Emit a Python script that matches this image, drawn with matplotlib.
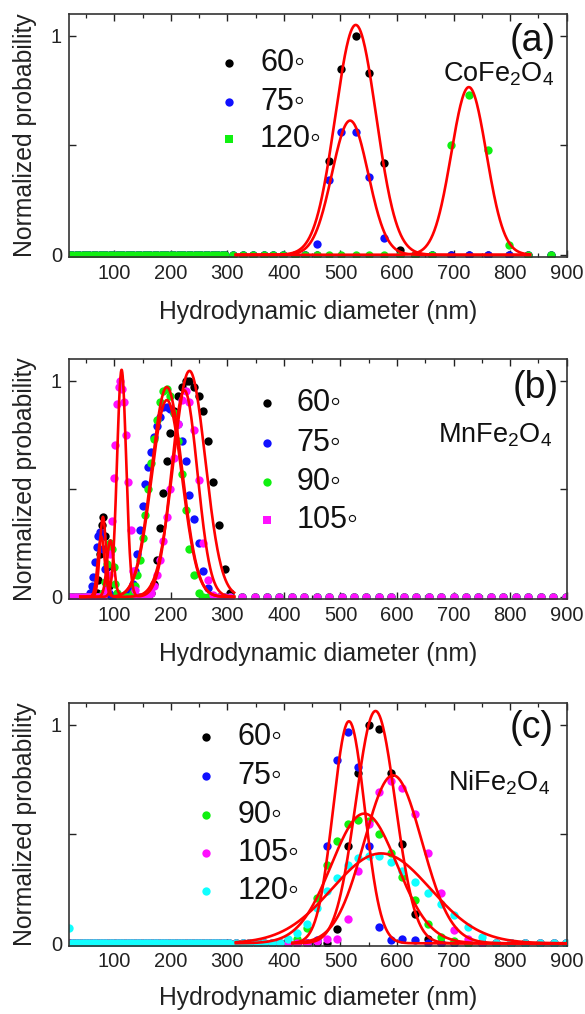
import numpy as np
import matplotlib
matplotlib.use('Agg')
import matplotlib.pyplot as plt
from matplotlib.ticker import MultipleLocator

plt.rcParams['font.family'] = ['Liberation Sans', 'DejaVu Sans']
plt.rcParams['mathtext.fontset'] = 'custom'
plt.rcParams['mathtext.rm'] = 'Liberation Sans'
plt.rcParams['mathtext.it'] = 'Liberation Sans:italic'
plt.rcParams['mathtext.bf'] = 'Liberation Sans:bold'

# ---------------- data: panel (a) CoFe2O4 ----------------
a_grid = [20, 26, 32, 38, 44, 50, 56, 62, 68, 74, 80, 86, 92, 98, 104, 110, 116, 122,
          128, 134, 140, 146, 152, 158, 164, 170, 176, 182, 188, 194, 200, 206, 212, 218,
          224, 230, 236, 242, 248, 254, 260, 266, 272, 278, 284, 290, 296, 310, 328, 346,
          364, 381, 399, 419, 437, 458, 480, 501, 527, 551, 577, 605, 632, 661, 695, 727,
          760, 798, 832, 873]
a_labels = ['60\u25e6', '75\u25e6', '120\u25e6']
a_colors = ['#000000', '#1010ff', '#10f010']
a_x = [[480, 501, 527, 551, 577, 605],
       [458, 480, 501, 527, 551, 577],
       [695, 727, 760, 798]]
a_y = [[0.43, 0.85, 1.0, 0.83, 0.42, 0.02],
       [0.05, 0.34, 0.56, 0.56, 0.355, 0.075],
       [0.50, 0.73, 0.48, 0.045]]
a_fit_c = [527, 517, 727]
a_fit_a = [1.05, 0.613, 0.766]
a_fit_s = [36, 32, 31]
a_fit_lo = [315, 315, 315]
a_fit_hi = [835, 835, 835]

# ---------------- data: panel (b) MnFe2O4 ----------------
b_grid = [20, 24, 28, 32, 36, 40, 44, 48, 51, 54, 57, 60, 63, 66, 69, 72, 75, 78, 81, 84,
          87, 90, 93, 96, 99, 102, 105, 108, 111, 114, 117, 121, 125, 129, 133, 137, 141,
          145, 150, 155, 160, 165, 170, 175, 181, 187, 193, 199, 205, 212, 219, 226, 233,
          241, 249, 257, 266, 275, 285, 295, 305, 326, 348, 370, 392, 414, 436, 458, 480,
          502, 524, 546, 568, 590, 612, 634, 656, 678, 700, 722, 744, 766, 788, 810, 832,
          854, 876, 898]
b_labels = ['60\u25e6', '75\u25e6', '90\u25e6', '105\u25e6']
b_colors = ['#000000', '#1010ff', '#10f010', '#ff10ff']
b_x = [[69, 72, 75, 78, 81, 84, 87, 90, 93,
        165, 170, 175, 181, 187, 193, 199, 205, 212, 219, 226, 233, 241, 249, 257, 266,
        275, 285, 295, 305],
       [57, 60, 63, 66, 69, 72, 75, 78, 81, 84, 87, 90,
        125, 129, 133, 137, 141, 145, 150, 155, 160, 165, 170, 175, 181, 187, 193, 199,
        205, 212, 219, 226, 233, 241, 249, 257, 266],
       [81, 84, 87, 90, 93, 96, 99, 102, 105,
        133, 137, 141, 145, 150, 155, 160, 165, 170, 175, 181, 187, 193, 199, 205, 212,
        219, 226, 233, 241, 249],
       [87, 90, 93, 96, 99, 102, 105, 108, 111, 114, 117, 121, 125, 129, 133, 137,
        165, 170, 175, 181, 187, 193, 199, 205, 212, 219, 226, 233, 241, 249, 257, 266, 275]]
b_y = [[0.02, 0.08, 0.20, 0.33, 0.37, 0.28, 0.14, 0.05, 0.01,
        0.02, 0.06, 0.17, 0.32, 0.48, 0.63, 0.76, 0.86, 0.93, 0.97, 1.0, 1.0, 0.97, 0.93,
        0.86, 0.72, 0.53, 0.33, 0.13, 0.02],
       [0.02, 0.05, 0.09, 0.16, 0.23, 0.28, 0.30, 0.28, 0.22, 0.13, 0.06, 0.02,
        0.01, 0.03, 0.06, 0.12, 0.20, 0.31, 0.42, 0.52, 0.60, 0.67, 0.74, 0.79, 0.83, 0.88,
        0.88, 0.87, 0.85, 0.80, 0.72, 0.63, 0.47, 0.36, 0.25, 0.12, 0.04],
       [0.02, 0.07, 0.15, 0.22, 0.25, 0.22, 0.14, 0.06, 0.02,
        0.02, 0.05, 0.10, 0.17, 0.27, 0.38, 0.50, 0.62, 0.73, 0.82, 0.90, 0.95, 0.96, 0.93,
        0.85, 0.72, 0.57, 0.40, 0.22, 0.10, 0.02],
       [0.03, 0.10, 0.20, 0.35, 0.55, 0.70, 0.89, 0.97, 1.0, 0.96, 0.90, 0.75, 0.53, 0.31,
        0.12, 0.03,
        0.02, 0.05, 0.10, 0.17, 0.26, 0.37, 0.50, 0.64, 0.80, 0.91, 0.95, 0.90, 0.77, 0.54,
        0.25, 0.08, 0.01]]
b_fit1_c = [80, 77, 93, 113]
b_fit1_a = [0.37, 0.28, 0.26, 1.05]
b_fit1_s = [5.5, 6, 6, 8]
b_fit2_c = [233, 193, 193, 224]
b_fit2_a = [1.045, 0.91, 0.97, 0.955]
b_fit2_s = [28, 27, 27, 23]
b_fit_lo = [40, 40, 40, 40]
b_fit_hi = [312, 312, 312, 312]

# ---------------- data: panel (c) NiFe2O4 ----------------
c_grid = [20, 26, 32, 38, 44, 50, 56, 62, 68, 74, 80, 86, 92, 98, 104, 110, 116, 122,
          128, 134, 140, 146, 152, 158, 164, 170, 176, 182, 188, 194, 200, 206, 212, 218,
          224, 230, 236, 242, 248, 254, 260, 266, 272, 278, 284, 290, 296, 303, 315, 327,
          339, 352, 365, 379, 393, 408, 424, 441, 459, 477, 494, 513, 531, 550, 568, 589,
          609, 631, 654, 678, 701, 725, 750, 775, 801, 827, 853, 877, 899]
c_labels = ['60\u25e6', '75\u25e6', '90\u25e6', '105\u25e6', '120\u25e6']
c_colors = ['#000000', '#1010ff', '#10f010', '#ff10ff', '#10ffff']
c_x = [[494, 513, 531, 550, 568, 589, 609, 631, 654],
       [459, 477, 494, 513, 531, 550, 568, 589, 609, 631],
       [424, 441, 459, 477, 494, 513, 531, 550, 568, 589, 609, 631, 654, 678, 701],
       [459, 477, 494, 513, 531, 550, 568, 589, 609, 631, 654, 678, 701, 725],
       [20, 408, 424, 441, 459, 477, 494, 513, 531, 550, 568, 589, 609, 631, 654, 678,
        701, 725, 750]]
c_y = [[0.064, 0.444, 0.78, 1.0, 0.98, 0.78, 0.456, 0.134, 0.02],
       [0.015, 0.447, 0.837, 0.966, 0.806, 0.447, 0.076, 0.015, 0.018, 0.015],
       [0.02, 0.068, 0.205, 0.357, 0.469, 0.545, 0.566, 0.56, 0.499, 0.411, 0.304, 0.198,
        0.09, 0.03, 0.01],
       [0.01, 0.02, 0.02, 0.11, 0.33, 0.545, 0.69, 0.74, 0.71, 0.59, 0.415, 0.228, 0.06,
        0.02],
       [0.068, 0.02, 0.045, 0.09, 0.16, 0.24, 0.30, 0.36, 0.39, 0.40, 0.40, 0.37, 0.33,
        0.28, 0.23, 0.18, 0.13, 0.075, 0.03]]
c_fit_c = [562, 515, 542, 593, 572]
c_fit_a = [1.062, 1.015, 0.593, 0.768, 0.411]
c_fit_s = [35, 28, 58, 51, 87]
c_fit_lo = [415, 415, 315, 415, 315]
c_fit_hi = [900, 900, 900, 900, 900]

x_ticks = [100, 200, 300, 400, 500, 600, 700, 800, 900]
y_ticks = [0, 0.5, 1]
y_ticklabels = ['0', '', '1']

# ---------------- figure ----------------
W, H = 585, 1014
fig = plt.figure(figsize=(W / 100, H / 100), dpi=100)
AX_L, AX_R = 69, 566.7
MS = 36
FIT_LW = 1.9


def make_axes(top, bottom):
    return fig.add_axes([AX_L / W, 1 - bottom / H, (AX_R - AX_L) / W, (bottom - top) / H])


def gauss_sum(x, comps):
    out = np.zeros_like(x)
    for c, a, s in comps:
        out += a * np.exp(-(x - c) ** 2 / (2 * s ** 2))
    return out


def style_axes(ax, xlab_y):
    ax.set_xlim(20, 900)
    ax.set_ylim(-0.01, 1.1)
    ax.set_xticks(x_ticks)
    ax.xaxis.set_minor_locator(MultipleLocator(50))
    ax.set_yticks(y_ticks)
    ax.set_yticklabels(y_ticklabels)
    ax.tick_params(which='both', direction='in', top=True, right=True,
                   labelsize=14.5, colors='#222222')
    ax.tick_params(which='major', length=5, width=1.0, pad=5)
    ax.tick_params(which='minor', length=3, width=0.9)
    for sp in ax.spines.values():
        sp.set_linewidth(1.2)
        sp.set_color('#333333')
    ax.set_xlabel('Hydrodynamic diameter (nm)', fontsize=17.8, color='#222222')
    ax.set_ylabel('Normalized probability', fontsize=17.8, color='#222222')
    ax.xaxis.set_label_coords(0.5, xlab_y)
    ax.yaxis.set_label_coords(-0.064, 0.5)


def draw_points(ax, grid, xs_list, ys_list, colors):
    for xs, ys, col in zip(xs_list, ys_list, colors):
        zeros = [g for g in grid if min(abs(g - v) for v in xs) > 3]
        ax.scatter(zeros, [0] * len(zeros), s=MS, color=col, linewidths=0, zorder=2)
        ax.scatter(xs, ys, s=MS, color=col, linewidths=0, zorder=2)


def draw_legend(ax, labels, colors, mx, tx, ys, square_last):
    for i, (lab, col, yy) in enumerate(zip(labels, colors, ys)):
        mk = 's' if (square_last and i == len(labels) - 1) else 'o'
        ax.scatter([mx], [yy], s=MS if mk == 'o' else 30, marker=mk, color=col,
                   linewidths=0, transform=ax.transAxes, clip_on=False, zorder=4)
        ax.text(tx, yy, lab, transform=ax.transAxes, ha='left', va='center',
                fontsize=22, color='#111111', family=['Liberation Sans', 'DejaVu Sans'])


# ---- (a)
axa = make_axes(14, 257)
draw_points(axa, a_grid, a_x, a_y, a_colors)
for c, a, s, lo, hi in zip(a_fit_c, a_fit_a, a_fit_s, a_fit_lo, a_fit_hi):
    xx = np.linspace(lo, hi, 500)
    axa.plot(xx, gauss_sum(xx, [(c, a, s)]), color='#ff0000', lw=FIT_LW, zorder=3)
style_axes(axa, -0.175)
draw_legend(axa, a_labels, a_colors, 0.322, 0.384, [0.797, 0.637, 0.486], True)
axa.text(0.932, 0.889, '(a)', transform=axa.transAxes, ha='center', va='center',
         fontsize=27, color='#111111')
axa.text(0.864, 0.721, r'CoFe$_2$O$_4$', transform=axa.transAxes, ha='center',
         va='baseline', fontsize=19.5, color='#111111')

# ---- (b)
axb = make_axes(359, 599)
draw_points(axb, b_grid, b_x, b_y, b_colors)
for i in range(len(b_labels)):
    xx = np.linspace(b_fit_lo[i], b_fit_hi[i], 800)
    comps = [(b_fit1_c[i], b_fit1_a[i], b_fit1_s[i]), (b_fit2_c[i], b_fit2_a[i], b_fit2_s[i])]
    axb.plot(xx, gauss_sum(xx, comps), color='#ff0000', lw=FIT_LW, zorder=3)
style_axes(axb, -0.18)
draw_legend(axb, b_labels, b_colors, 0.397, 0.457, [0.815, 0.648, 0.488, 0.329], True)
axb.text(0.937, 0.881, '(b)', transform=axb.transAxes, ha='center', va='center',
         fontsize=27, color='#111111')
axb.text(0.856, 0.654, r'MnFe$_2$O$_4$', transform=axb.transAxes, ha='center',
         va='baseline', fontsize=19.5, color='#111111')

# ---- (c)
axc = make_axes(702.7, 945.5)
draw_points(axc, c_grid, c_x, c_y, c_colors)
for c, a, s, lo, hi in zip(c_fit_c, c_fit_a, c_fit_s, c_fit_lo, c_fit_hi):
    xx = np.linspace(lo, hi, 500)
    axc.plot(xx, gauss_sum(xx, [(c, a, s)]), color='#ff0000', lw=FIT_LW, zorder=3)
style_axes(axc, -0.165)
draw_legend(axc, c_labels, c_colors, 0.276, 0.338, [0.857, 0.698, 0.538, 0.380, 0.226], False)
axc.text(0.93, 0.894, '(c)', transform=axc.transAxes, ha='center', va='center',
         fontsize=27, color='#111111')
axc.text(0.864, 0.640, r'NiFe$_2$O$_4$', transform=axc.transAxes, ha='center',
         va='baseline', fontsize=19.5, color='#111111')

fig.savefig('out.png', dpi=100)
